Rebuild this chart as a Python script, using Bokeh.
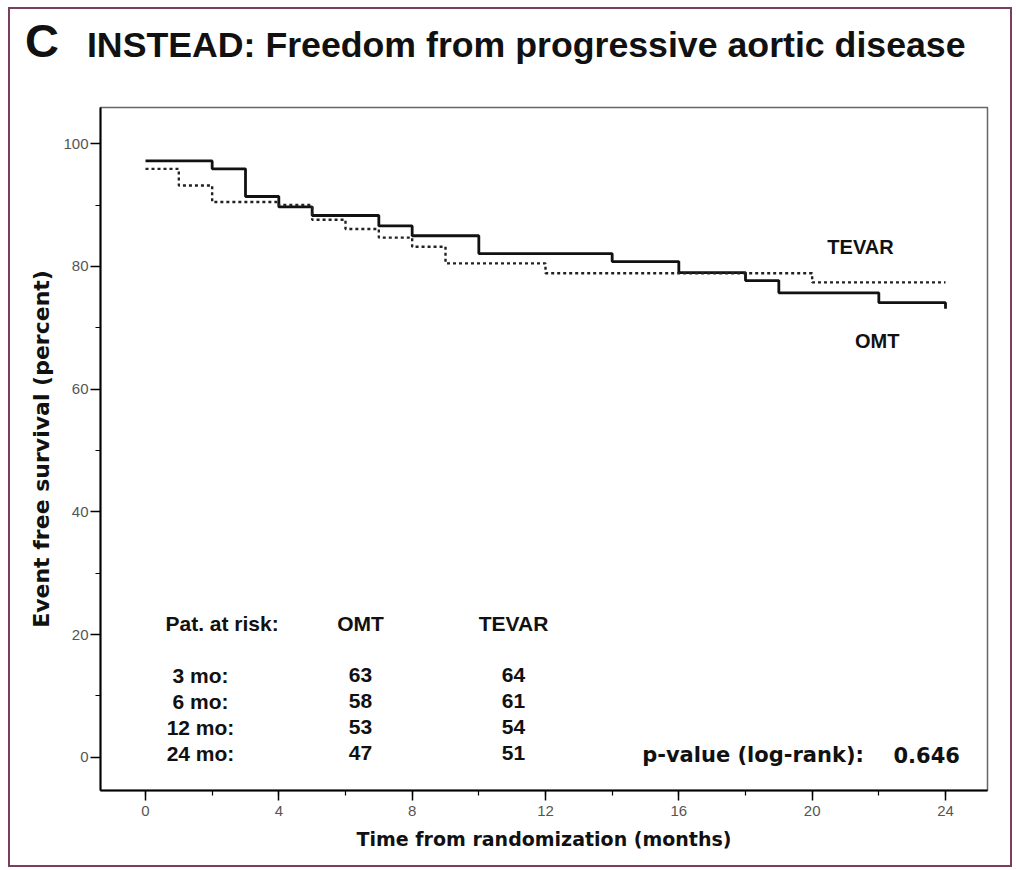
from bokeh.plotting import figure
from bokeh.models import Label, SingleIntervalTicker, Range1d, ColumnDataSource, Div
from bokeh.layouts import column
from bokeh.core.properties import value
from bokeh.embed import file_html
from bokeh.resources import INLINE

# ---- data ----
omt_t = [0, 2, 3, 4, 5, 7, 8, 10, 14, 16, 18, 19, 22, 24]
omt_v = [97.2, 95.9, 91.4, 89.7, 88.3, 86.6, 85.0, 82.1, 80.8, 79.0, 77.7, 75.7, 74.1, 73.1]

tevar_t = [0, 1, 2, 4, 5, 6, 7, 8, 9, 12, 20, 24]
tevar_v = [95.9, 93.2, 90.5, 90.0, 87.6, 86.1, 84.7, 83.2, 80.5, 78.9, 77.4, 77.4]

risk_header = ["Pat. at risk:", "OMT", "TEVAR"]
risk_rows = ["3 mo:", "6 mo:", "12 mo:", "24 mo:"]
omt_at_risk = [63, 58, 53, 47]
tevar_at_risk = [64, 61, 54, 51]

p_value_label = "p-value (log-rank):"
p_value = "0.646"

title_letter = "C"
title_text = "INSTEAD: Freedom from progressive aortic disease"
x_label = "Time from randomization (months)"
y_label = "Event free survival (percent)"

# ---- title block ----
title_html = (
    '<div style="display:flex;align-items:baseline;padding:10px 0 0 15px;'
    'color:#111111;font-family:\'Liberation Sans\';font-weight:bold;white-space:nowrap;">'
    '<span style="font-size:47px;line-height:44px;">' + title_letter + '</span>'
    '<span style="font-size:35.7px;line-height:44px;margin-left:28px;">' + title_text + '</span>'
    '</div>'
)
div = Div(text=title_html, width=1000, height=80, margin=(0, 0, 0, 0))

# ---- figure ----
p = figure(width=1000, height=776,
           x_range=Range1d(-1.35, 25.26), y_range=Range1d(-5.4, 105.9),
           output_backend="svg", toolbar_location=None,
           min_border_left=90, min_border_right=23,
           min_border_top=18, min_border_bottom=75, margin=(0, 0, 0, 0))
p.background_fill_color = "white"
p.border_fill_color = "white"
p.xgrid.visible = False
p.ygrid.visible = False
p.outline_line_color = "#666666"
p.outline_line_width = 1.5

p.xaxis.ticker = SingleIntervalTicker(interval=4, num_minor_ticks=2)
p.yaxis.ticker = SingleIntervalTicker(interval=20, num_minor_ticks=2)
for ax in (p.xaxis[0], p.yaxis[0]):
    ax.axis_line_width = 2
    ax.axis_line_color = "black"
    ax.major_tick_out = 10
    ax.major_tick_in = 0
    ax.minor_tick_out = 5
    ax.minor_tick_in = 0
    ax.major_tick_line_width = 1.5
    ax.minor_tick_line_width = 1.2
    ax.major_label_text_font = "Liberation Sans"
    ax.major_label_text_font_size = "15px"
    ax.major_label_text_color = "#555555"
    ax.axis_label_text_font = "DejaVu Sans"
    ax.axis_label_text_font_style = "bold"
    ax.axis_label_text_color = "#111111"

p.xaxis.axis_label = x_label
p.xaxis.axis_label_text_font_size = "19px"
p.xaxis.major_label_standoff = 5
p.xaxis.axis_label_standoff = 9
p.yaxis.axis_label = y_label
p.yaxis.axis_label_text_font_size = "22px"
p.yaxis.major_label_standoff = 2
p.yaxis.axis_label_standoff = 6

# ---- curves ----
p.step(omt_t, omt_v, mode="after", line_color="#111111", line_width=2.8)
p.step(tevar_t, tevar_v, mode="after", line_color="#222222", line_width=2.4,
       line_dash="3 3")

# ---- curve labels ----
lab_font = value("Liberation Sans")
p.text(x=[21.45], y=[83.1], text=["TEVAR"], text_font=lab_font,
       text_font_size="20px", text_font_style="bold", text_align="center",
       text_baseline="middle", text_color="#111111")
p.text(x=[21.95], y=[67.9], text=["OMT"], text_font=lab_font,
       text_font_size="20px", text_font_style="bold", text_align="center",
       text_baseline="middle", text_color="#111111")

# ---- risk table ----
row_top = 13.4
row_step = 4.25
row_y = [row_top - row_step * i for i in range(len(risk_rows))]
col_label_x = 1.65
col_omt_x = 6.45
col_tevar_x = 11.04
header_y = 21.8
table_size = "21px"

p.text(x=[0.6], y=[header_y], text=[risk_header[0]], text_font=lab_font,
       text_font_size=table_size, text_font_style="bold", text_align="left",
       text_baseline="middle", text_color="#111111")
p.text(x=[col_omt_x, col_tevar_x], y=[header_y, header_y], text=risk_header[1:],
       text_font=lab_font, text_font_size=table_size, text_font_style="bold",
       text_align="center", text_baseline="middle", text_color="#111111")

src = ColumnDataSource(dict(
    y=row_y, rows=risk_rows,
    omt=[str(v) for v in omt_at_risk],
    tevar=[str(v) for v in tevar_at_risk],
    lx=[col_label_x] * len(risk_rows),
    ox=[col_omt_x] * len(risk_rows),
    tx=[col_tevar_x] * len(risk_rows),
))
for col, xcol in (("rows", "lx"), ("omt", "ox"), ("tevar", "tx")):
    p.text(x=xcol, y="y", text=col, source=src, text_font=lab_font,
           text_font_size=table_size, text_font_style="bold", text_align="center",
           text_baseline="middle", text_color="#111111")

# ---- p-value ----
p.add_layout(Label(x=14.9, y=0.33, text=p_value_label, text_font="DejaVu Sans",
                   text_font_size="21px", text_font_style="bold",
                   text_baseline="alphabetic", text_color="#111111"))
p.add_layout(Label(x=22.44, y=0.33, text=p_value, text_font="DejaVu Sans",
                   text_font_size="21px", text_font_style="bold",
                   text_baseline="alphabetic", text_color="#111111"))

layout = column(div, p, spacing=0,
                styles={"border": "2px solid #7b3f5e", "margin-left": "8px",
                        "margin-top": "7px", "background-color": "white"})

open("out.html", "w").write(file_html(layout, INLINE))
